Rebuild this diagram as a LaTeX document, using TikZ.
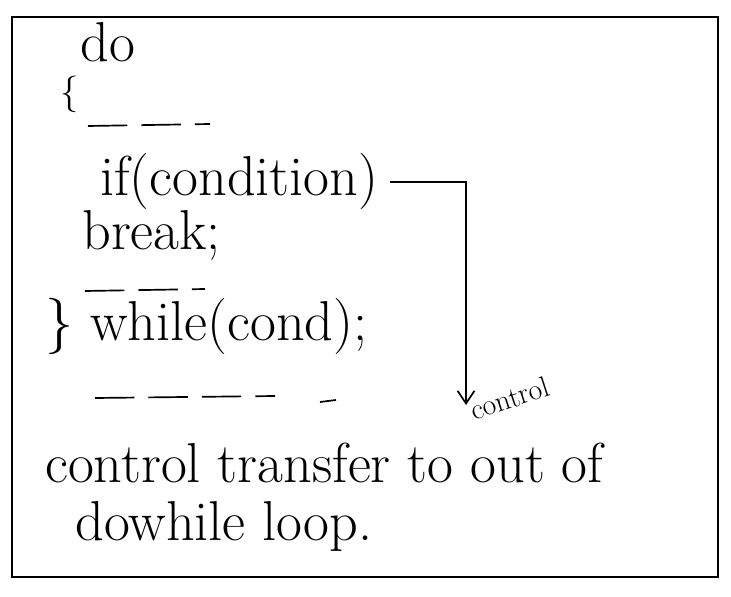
\documentclass[tikz,border=0pt]{standalone}
\usetikzlibrary{arrows.meta, positioning}
\begin{document}
\begin{tikzpicture}[
        x=0.025cm, y=-0.025cm,
        code/.style={anchor=base west, inner sep=0pt, font=\fontsize{40}{44}\selectfont},
        note/.style={inner sep=0pt, font=\fontsize{21}{23}\selectfont},
        gap/.style={line width=1.2pt, dash pattern=on 28pt off 10pt},
        arrow/.style={-{Straight Barb[length=9pt, width=12pt]}, line width=1.2pt}
    ]
        \useasboundingbox (0,0) rectangle (731,597);
        % frame round the snippet
        \draw[line width=1.8pt] (12,17) rectangle (718,577);

        \node[code] (kw) at (80,62) {do};
        \node[code, font=\fontsize{26}{28}\selectfont] (open) at (60,104) {\{};
        \draw[gap] (88,126) -- (210,124);

        \node[code] (ifc) at (100,196) {if(condition)};
        \node[code] (brk) at (82,250) {break;};
        \draw[gap] (85,291) -- (205,289);

        \node[code] (loop) at (45,340) {\} while(cond);};
        \draw[gap] (95,398) -- (275,396);
        \draw[line width=1.2pt] (320,402) -- (336,400);

        \node[code] (msg) at (45,482) {control transfer to out of};
        \node[code] (msg2) at (75,540) {dowhile loop.};

        % jump out of the loop on break
        \coordinate (tip) at (466,405);
        \draw[arrow, shorten <=8pt] (ifc.east) -| (tip);
        \node[note, anchor=south west, rotate=18] (lbl) at (474,421) {control};
    \end{tikzpicture}
\end{document}
